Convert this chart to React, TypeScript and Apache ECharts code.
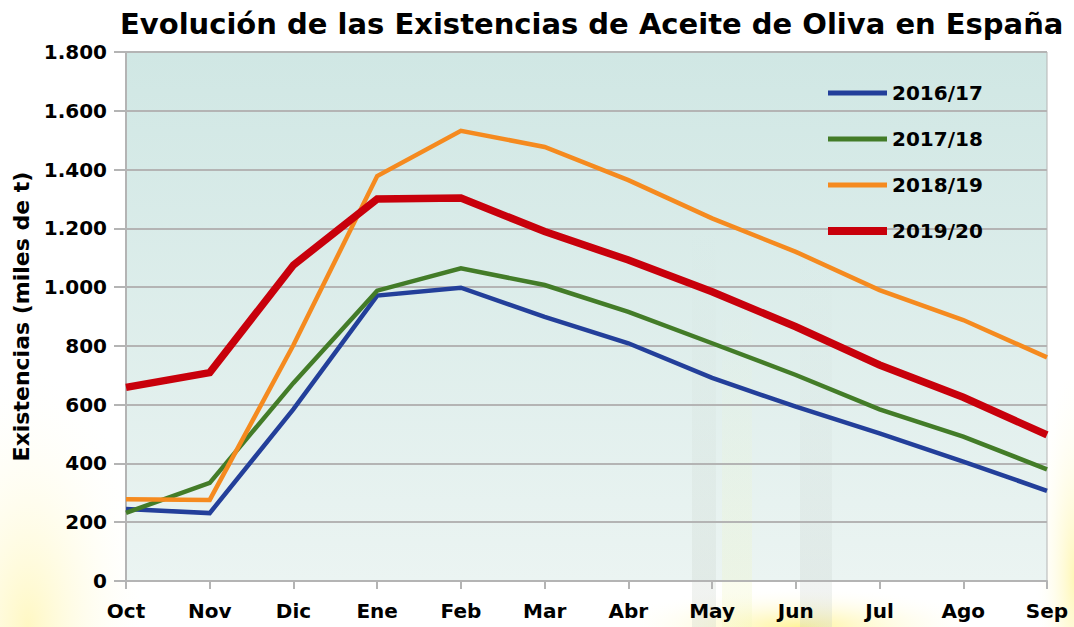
import React, { useEffect, useRef } from "react";
import * as echarts from "echarts";

const months = ["Oct", "Nov", "Dic", "Ene", "Feb", "Mar", "Abr", "May", "Jun", "Jul", "Ago", "Sep"];
const s1617 = [245, 231, 585, 971, 998, 899, 809, 691, 593, 502, 406, 307];
const s1718 = [232, 334, 674, 988, 1064, 1007, 916, 809, 701, 584, 491, 380];
const s1819 = [278, 276, 803, 1378, 1532, 1477, 1364, 1234, 1120, 990, 888, 761];
const s1920 = [659, 709, 1075, 1300, 1303, 1189, 1092, 984, 865, 735, 625, 497];

const FONT = "DejaVu Sans, sans-serif";

export default function App() {
  const ref = useRef<HTMLDivElement>(null);
  useEffect(() => {
    if (!ref.current) return;
    const chart = echarts.init(ref.current, null, { renderer: "svg" });
    const mk = (name: string, data: number[], color: string, width: number) => ({
      name,
      type: "line",
      data,
      symbol: "none",
      lineStyle: { color, width, join: "miter" },
      itemStyle: { color },
      z: 3,
    });
    chart.setOption({
      animation: false,
      backgroundColor: "#ffffff",
      title: {
        text: "Evolución de las Existencias de Aceite de Oliva en España",
        left: 115,
        top: 4,
        textStyle: { fontFamily: FONT, fontSize: 29, fontWeight: "bold", color: "#000" },
      },
      graphic: [
        {
          type: "rect",
          z: -20,
          shape: { x: 0, y: 330, width: 140, height: 297 },
          style: {
            fill: new echarts.graphic.RadialGradient(0.2, 1, 0.9, [
              { offset: 0, color: "rgba(255,245,170,0.7)" },
              { offset: 1, color: "rgba(255,255,255,0)" },
            ]),
          },
        },
        {
          type: "rect",
          z: -20,
          shape: { x: 640, y: 560, width: 320, height: 67 },
          style: {
            fill: new echarts.graphic.RadialGradient(0.5, 1, 0.6, [
              { offset: 0, color: "rgba(255,240,120,0.75)" },
              { offset: 1, color: "rgba(255,255,255,0)" },
            ]),
          },
        },
        {
          type: "rect",
          z: -20,
          shape: { x: 1030, y: 380, width: 44, height: 247 },
          style: {
            fill: new echarts.graphic.RadialGradient(1, 0.8, 0.9, [
              { offset: 0, color: "rgba(255,245,160,0.75)" },
              { offset: 1, color: "rgba(255,255,255,0)" },
            ]),
          },
        },
        {
          type: "rect",
          z: -10,
          shape: { x: 126, y: 52, width: 921, height: 529 },
          style: {
            fill: new echarts.graphic.LinearGradient(0, 0, 0, 1, [
              { offset: 0, color: "#d0e7e4" },
              { offset: 1, color: "#ebf4f2" },
            ]),
          },
        },
        {
          type: "rect",
          z: -9,
          shape: { x: 692, y: 230, width: 24, height: 397 },
          style: {
            fill: new echarts.graphic.LinearGradient(0, 0, 0, 1, [
              { offset: 0, color: "rgba(200,210,200,0)" },
              { offset: 1, color: "rgba(190,200,190,0.25)" },
            ]),
          },
        },
        {
          type: "rect",
          z: -9,
          shape: { x: 722, y: 300, width: 30, height: 327 },
          style: {
            fill: new echarts.graphic.LinearGradient(0, 0, 0, 1, [
              { offset: 0, color: "rgba(235,245,200,0)" },
              { offset: 1, color: "rgba(240,245,190,0.3)" },
            ]),
          },
        },
        {
          type: "rect",
          z: -9,
          shape: { x: 800, y: 250, width: 32, height: 377 },
          style: {
            fill: new echarts.graphic.LinearGradient(0, 0, 0, 1, [
              { offset: 0, color: "rgba(200,210,205,0)" },
              { offset: 1, color: "rgba(190,200,195,0.25)" },
            ]),
          },
        },
      ],
      legend: {
        left: 819,
        top: 77,
        orient: "vertical",
        itemWidth: 59,
        itemHeight: 14,
        itemGap: 24,
        itemStyle: { opacity: 0 },
        textStyle: { fontFamily: FONT, fontSize: 20, fontWeight: "bold", color: "#000", lineHeight: 22 },
        data: [
          { name: "2016/17", lineStyle: { width: 5 } },
          { name: "2017/18", lineStyle: { width: 5 } },
          { name: "2018/19", lineStyle: { width: 5 } },
          { name: "2019/20", lineStyle: { width: 8 } },
        ],
      },
      grid: {
        left: 126,
        right: 27,
        top: 52,
        bottom: 46,
        outerBoundsMode: "none",
        containLabel: false,
        show: true,
        borderColor: "#b4b4b4",
        borderWidth: 1,
        backgroundColor: "transparent",
      },
      xAxis: {
        type: "category",
        data: months,
        boundaryGap: false,
        axisLine: { lineStyle: { color: "#b4b4b4", width: 2 } },
        axisTick: { show: true, length: 8, lineStyle: { color: "#b4b4b4", width: 2 } },
        axisLabel: { fontFamily: FONT, fontSize: 20, fontWeight: "bold", color: "#000", margin: 20 },
        splitLine: { show: false },
      },
      yAxis: {
        type: "value",
        min: 0,
        max: 1800,
        interval: 200,
        name: "Existencias (miles de t)",
        nameLocation: "middle",
        nameGap: 93,
        nameTextStyle: { fontFamily: FONT, fontSize: 22, fontWeight: "bold", color: "#000" },
        axisLine: { show: true, lineStyle: { color: "#b4b4b4", width: 2 } },
        axisTick: { show: true, length: 12, lineStyle: { color: "#b4b4b4", width: 2 } },
        axisLabel: {
          fontFamily: FONT,
          fontSize: 20,
          fontWeight: "bold",
          color: "#000",
          margin: 19,
          formatter: (v: number) => (v >= 1000 ? Math.floor(v / 1000) + "." + String(v % 1000).padStart(3, "0") : String(v)),
        },
        splitLine: { show: true, lineStyle: { color: "#b4b4b4", width: 2 } },
      },
      series: [
        mk("2016/17", s1617, "#233f9a", 4.5),
        mk("2017/18", s1718, "#437c28", 4.5),
        mk("2018/19", s1819, "#f58a1f", 4.5),
        mk("2019/20", s1920, "#c8000b", 7.5),
      ],
    });
    return () => chart.dispose();
  }, []);
  return <div ref={ref} style={{ width: 1074, height: 627, position: "absolute", left: 0, top: 0 }} />;
}
